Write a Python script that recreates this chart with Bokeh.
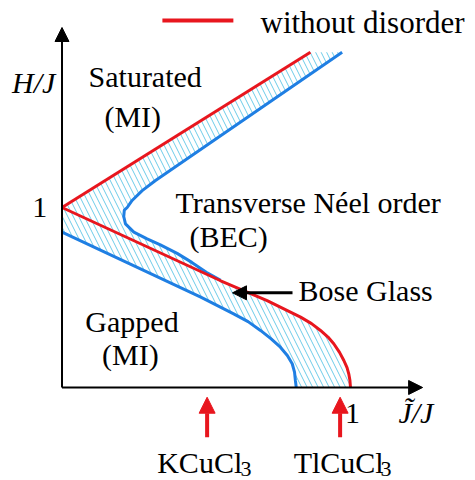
import numpy as np
from bokeh.plotting import figure
from bokeh.models import Arrow, NormalHead, ColumnDataSource
from bokeh.core.properties import value
from bokeh.embed import file_html
from bokeh.resources import INLINE

# Phase boundaries of the clean system (without disorder), axes J~/J and H/J
red_upper_x = [0.0, 0.861]
red_upper_y = [1.0, 1.863]
red_lower_x = [0.0, 0.550, 0.711, 0.827, 0.865, 0.896, 0.922, 0.942, 0.962, 0.977, 0.988, 0.994, 0.998, 1.0]
red_lower_y = [1.0, 0.593, 0.483, 0.391, 0.355, 0.317, 0.280, 0.243, 0.195, 0.150, 0.110, 0.076, 0.040, 0.0]

# Phase boundaries with disorder
blue_upper_x = [0.971, 0.324, 0.278, 0.243, 0.226, 0.216, 0.214, 0.220, 0.249, 0.295, 0.341, 0.399, 0.450, 0.500, 0.550]
blue_upper_y = [1.863, 1.150, 1.094, 1.039, 1.000, 0.985, 0.950, 0.909, 0.863, 0.826, 0.792, 0.745, 0.695, 0.640, 0.595]
blue_lower_x = [0.0, 0.481, 0.595, 0.645, 0.688, 0.725, 0.757, 0.781, 0.798, 0.806, 0.809, 0.812]
blue_lower_y = [0.863, 0.502, 0.409, 0.366, 0.317, 0.270, 0.224, 0.178, 0.132, 0.085, 0.039, 0.0]

# Compounds marked on the J~/J axis
material_names = ["KCuCl", "TlCuCl"]
material_x = [0.503, 0.964]

RED = "#e8161e"
BLUE = "#1f7fe3"
HATCH = "#6ccbe8"
FONT = value("Liberation Serif")

p = figure(width=475, height=480, x_range=(-0.2132, 1.4333), y_range=(-0.5167, 2.15),
           x_axis_location=None, y_axis_location=None, toolbar_location=None,
           output_backend="svg", min_border=0, outline_line_color=None,
           background_fill_color="white", border_fill_color="white")
p.grid.visible = False
p.xgrid.grid_line_color = None
p.ygrid.grid_line_color = None

# Bose-glass region: between the clean and the disordered boundaries
rlx = np.array(red_lower_x)
rly = np.array(red_lower_y)
tail = rlx >= blue_upper_x[-1]
hx = np.concatenate([red_upper_x[::-1], blue_lower_x, rlx[tail][::-1], blue_upper_x[::-1]])
hy = np.concatenate([red_upper_y[::-1], blue_lower_y, rly[tail][::-1], blue_upper_y[::-1]])
p.patch(hx, hy, fill_color=None, line_color=None, hatch_pattern="\\",
        hatch_color=HATCH, hatch_scale=11, hatch_weight=1)

# Boundaries
p.line(blue_upper_x, blue_upper_y, line_color=BLUE, line_width=3)
p.line(blue_lower_x, blue_lower_y, line_color=BLUE, line_width=3)
p.line(red_upper_x, red_upper_y, line_color=RED, line_width=3)
p.line(red_lower_x, red_lower_y, line_color=RED, line_width=3)

# Axes drawn as arrows
for xs, ys, xe, ye in [(0, 0, 0, 2.0), (0, 0, 1.25, 0)]:
    p.add_layout(Arrow(end=NormalHead(size=14, fill_color="black", line_color="black"),
                       x_start=xs, y_start=ys, x_end=xe, y_end=ye,
                       line_color="black", line_width=2))

# Arrows pointing at the two compounds
msrc = ColumnDataSource(dict(x0=material_x, y0=[-0.276] * 2, y1=[-0.054] * 2))
p.add_layout(Arrow(end=NormalHead(size=16, fill_color=RED, line_color=RED),
                   x_start="x0", y_start="y0", x_end="x0", y_end="y1", source=msrc,
                   line_color=RED, line_width=4))

# Arrow pointing into the Bose-glass band
p.add_layout(Arrow(end=NormalHead(size=14, fill_color="black", line_color="black"),
                   x_start=0.799, y_start=0.526, x_end=0.591, y_end=0.526,
                   line_color="black", line_width=3))

# Legend sample
p.line([0.348, 0.594], [2.039, 2.039], line_color=RED, line_width=4)

def txt(x, y, t, size=30, style="normal", align="left"):
    p.text(x=[x], y=[y], text=[t], text_font=FONT, text_font_size=f"{size}px",
           text_font_style=style, text_align=align, text_baseline="alphabetic",
           text_color="black", y_offset=-round(size / 3))

txt(0.688, 1.974, "without disorder", size=31)
txt(0.092, 1.672, "Saturated")
txt(0.147, 1.450, "(MI)")
txt(0.393, 0.974, "Transverse Néel order")
txt(0.442, 0.783, "(BEC)")
txt(0.820, 0.483, "Bose Glass")
txt(0.081, 0.311, "Gapped")
txt(0.139, 0.128, "(MI)")
txt(-0.173, 1.641, "H/J", style="italic")
txt(-0.051, 0.946, "1", align="right")
txt(1.007, -0.200, "1", align="center")
txt(1.166, -0.193, "J\u0303/J", style="italic")

# Formula names with a lowered, smaller "3"
for name, mx, sx in zip(material_names, [0.330, 0.803], [0.619, 1.104]):
    txt(mx, -0.471, name)
    txt(sx, -0.490, "3", size=22)

open("out.html", "w").write(file_html(p, INLINE))
